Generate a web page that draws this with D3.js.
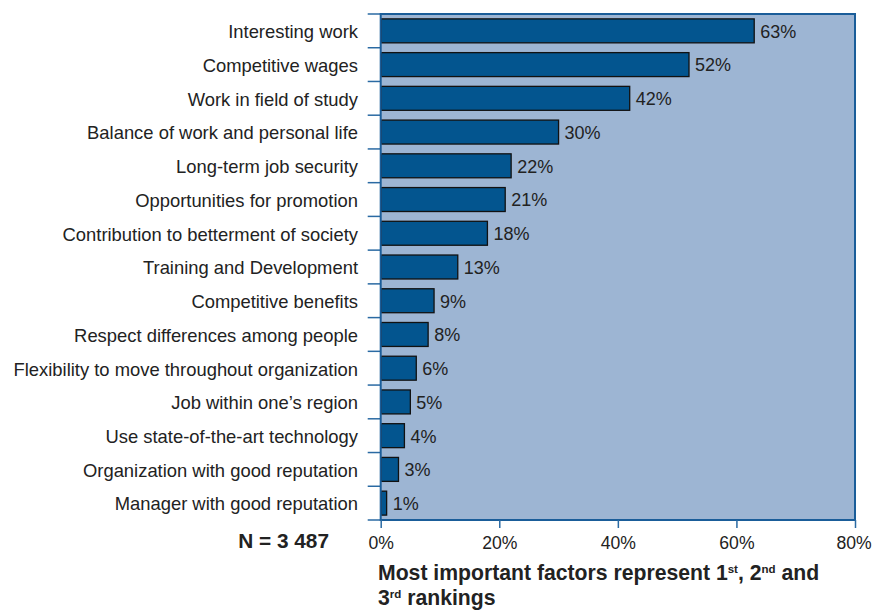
<!DOCTYPE html>
<html>
<head>
<meta charset="utf-8">
<script src="https://cdn.jsdelivr.net/npm/d3@7"></script>
<style>
  html, body { margin: 0; padding: 0; background: #fff; }
  svg { display: block; font-family: "Liberation Sans", Arial, Helvetica, sans-serif; }
</style>
</head>
<body>
<svg id="chart" width="872" height="610"></svg>
<script>
const categories = [
  "Interesting work",
  "Competitive wages",
  "Work in field of study",
  "Balance of work and personal life",
  "Long-term job security",
  "Opportunities for promotion",
  "Contribution to betterment of society",
  "Training and Development",
  "Competitive benefits",
  "Respect differences among people",
  "Flexibility to move throughout organization",
  "Job within one\u2019s region",
  "Use state-of-the-art technology",
  "Organization with good reputation",
  "Manager with good reputation"
];
const values = [63, 52, 42, 30, 22, 21, 18, 13, 9, 8, 6, 5, 4, 3, 1];
const xTicks = [0, 20, 40, 60, 80];
const sampleNote = "N = 3 487";

const svg = d3.select("#chart");
const plotLeft = 380.7, plotRight = 855, plotTop = 14, plotBottom = 520;

const x = d3.scaleLinear().domain([0, 80]).range([plotLeft, plotRight]);
const y = d3.scaleBand().domain(categories).range([plotTop, plotBottom])
  .paddingInner(0.29).paddingOuter(0.145);

// plot background
svg.append("rect")
  .attr("x", plotLeft).attr("y", plotTop)
  .attr("width", plotRight - plotLeft).attr("height", plotBottom - plotTop)
  .attr("fill", "#9db5d3");

// category tick marks at band boundaries
const step = (plotBottom - plotTop) / categories.length;
const boundaries = d3.range(categories.length + 1).map(i => plotTop + i * step);
svg.append("g").selectAll("line").data(boundaries).join("line")
  .attr("x1", plotLeft - 13).attr("x2", plotLeft)
  .attr("y1", d => d).attr("y2", d => d)
  .attr("stroke", "#2a6aa3").attr("stroke-width", 1.5);

// bars
svg.append("g").selectAll("rect").data(values).join("rect")
  .attr("x", x(0) + 0.5)
  .attr("y", (d, i) => y(categories[i]))
  .attr("width", d => x(d) - x(0) - 0.5)
  .attr("height", y.bandwidth())
  .attr("fill", "#03558f")
  .attr("stroke", "#111")
  .attr("stroke-width", 1.3);

// value labels
svg.append("g").selectAll("text").data(values).join("text")
  .attr("x", d => x(d) + 6)
  .attr("y", (d, i) => y(categories[i]) + y.bandwidth() / 2)
  .attr("dy", "0.38em")
  .attr("font-size", 18)
  .attr("fill", "#222")
  .text(d => d + "%");

// category labels
svg.append("g").selectAll("text").data(categories).join("text")
  .attr("x", 358)
  .attr("y", d => y(d) + y.bandwidth() / 2)
  .attr("dy", "0.4em")
  .attr("text-anchor", "end")
  .attr("font-size", 18.4)
  .attr("fill", "#222")
  .text(d => d);

// frame
svg.append("rect")
  .attr("x", plotLeft).attr("y", plotTop)
  .attr("width", plotRight - plotLeft).attr("height", plotBottom - plotTop)
  .attr("fill", "none")
  .attr("stroke", "#1a5d99").attr("stroke-width", 2);

// x axis
const xAxis = d3.axisBottom(x).tickValues(xTicks)
  .tickFormat(d => d + "%").tickSize(8).tickPadding(0);
const gx = svg.append("g").attr("transform", `translate(0,${plotBottom})`).call(xAxis);
gx.select(".domain").remove();
gx.selectAll(".tick line").attr("stroke", "#2a6aa3").attr("stroke-width", 1.5);
gx.selectAll(".tick text").attr("font-size", 17.6).attr("fill", "#222")
  .attr("font-family", "Liberation Sans, Arial, sans-serif")
  .attr("dy", null).attr("y", 29)
  .attr("dx", d => d === 80 ? -1.5 : 0);

// sample size note
svg.append("text")
  .attr("x", 329).attr("y", 548)
  .attr("text-anchor", "end")
  .attr("font-size", 20.8).attr("font-weight", "bold").attr("fill", "#222")
  .text(sampleNote);

// axis title with superscript ordinals
const title = svg.append("text")
  .attr("x", 378).attr("font-size", 21.2).attr("font-weight", "bold").attr("fill", "#222");
const l1 = title.append("tspan").attr("x", 378).attr("y", 580);
l1.append("tspan").text("Most important factors represent 1");
l1.append("tspan").attr("font-size", 11.5).attr("dy", -7.5).text("st");
l1.append("tspan").attr("dy", 7.5).text(", 2");
l1.append("tspan").attr("font-size", 11.5).attr("dy", -7.5).text("nd");
l1.append("tspan").attr("dy", 7.5).text(" and");
const l2 = title.append("tspan").attr("x", 378).attr("y", 605);
l2.append("tspan").text("3");
l2.append("tspan").attr("font-size", 11.5).attr("dy", -7.5).text("rd");
l2.append("tspan").attr("dy", 7.5).text(" rankings");
</script>
</body>
</html>
